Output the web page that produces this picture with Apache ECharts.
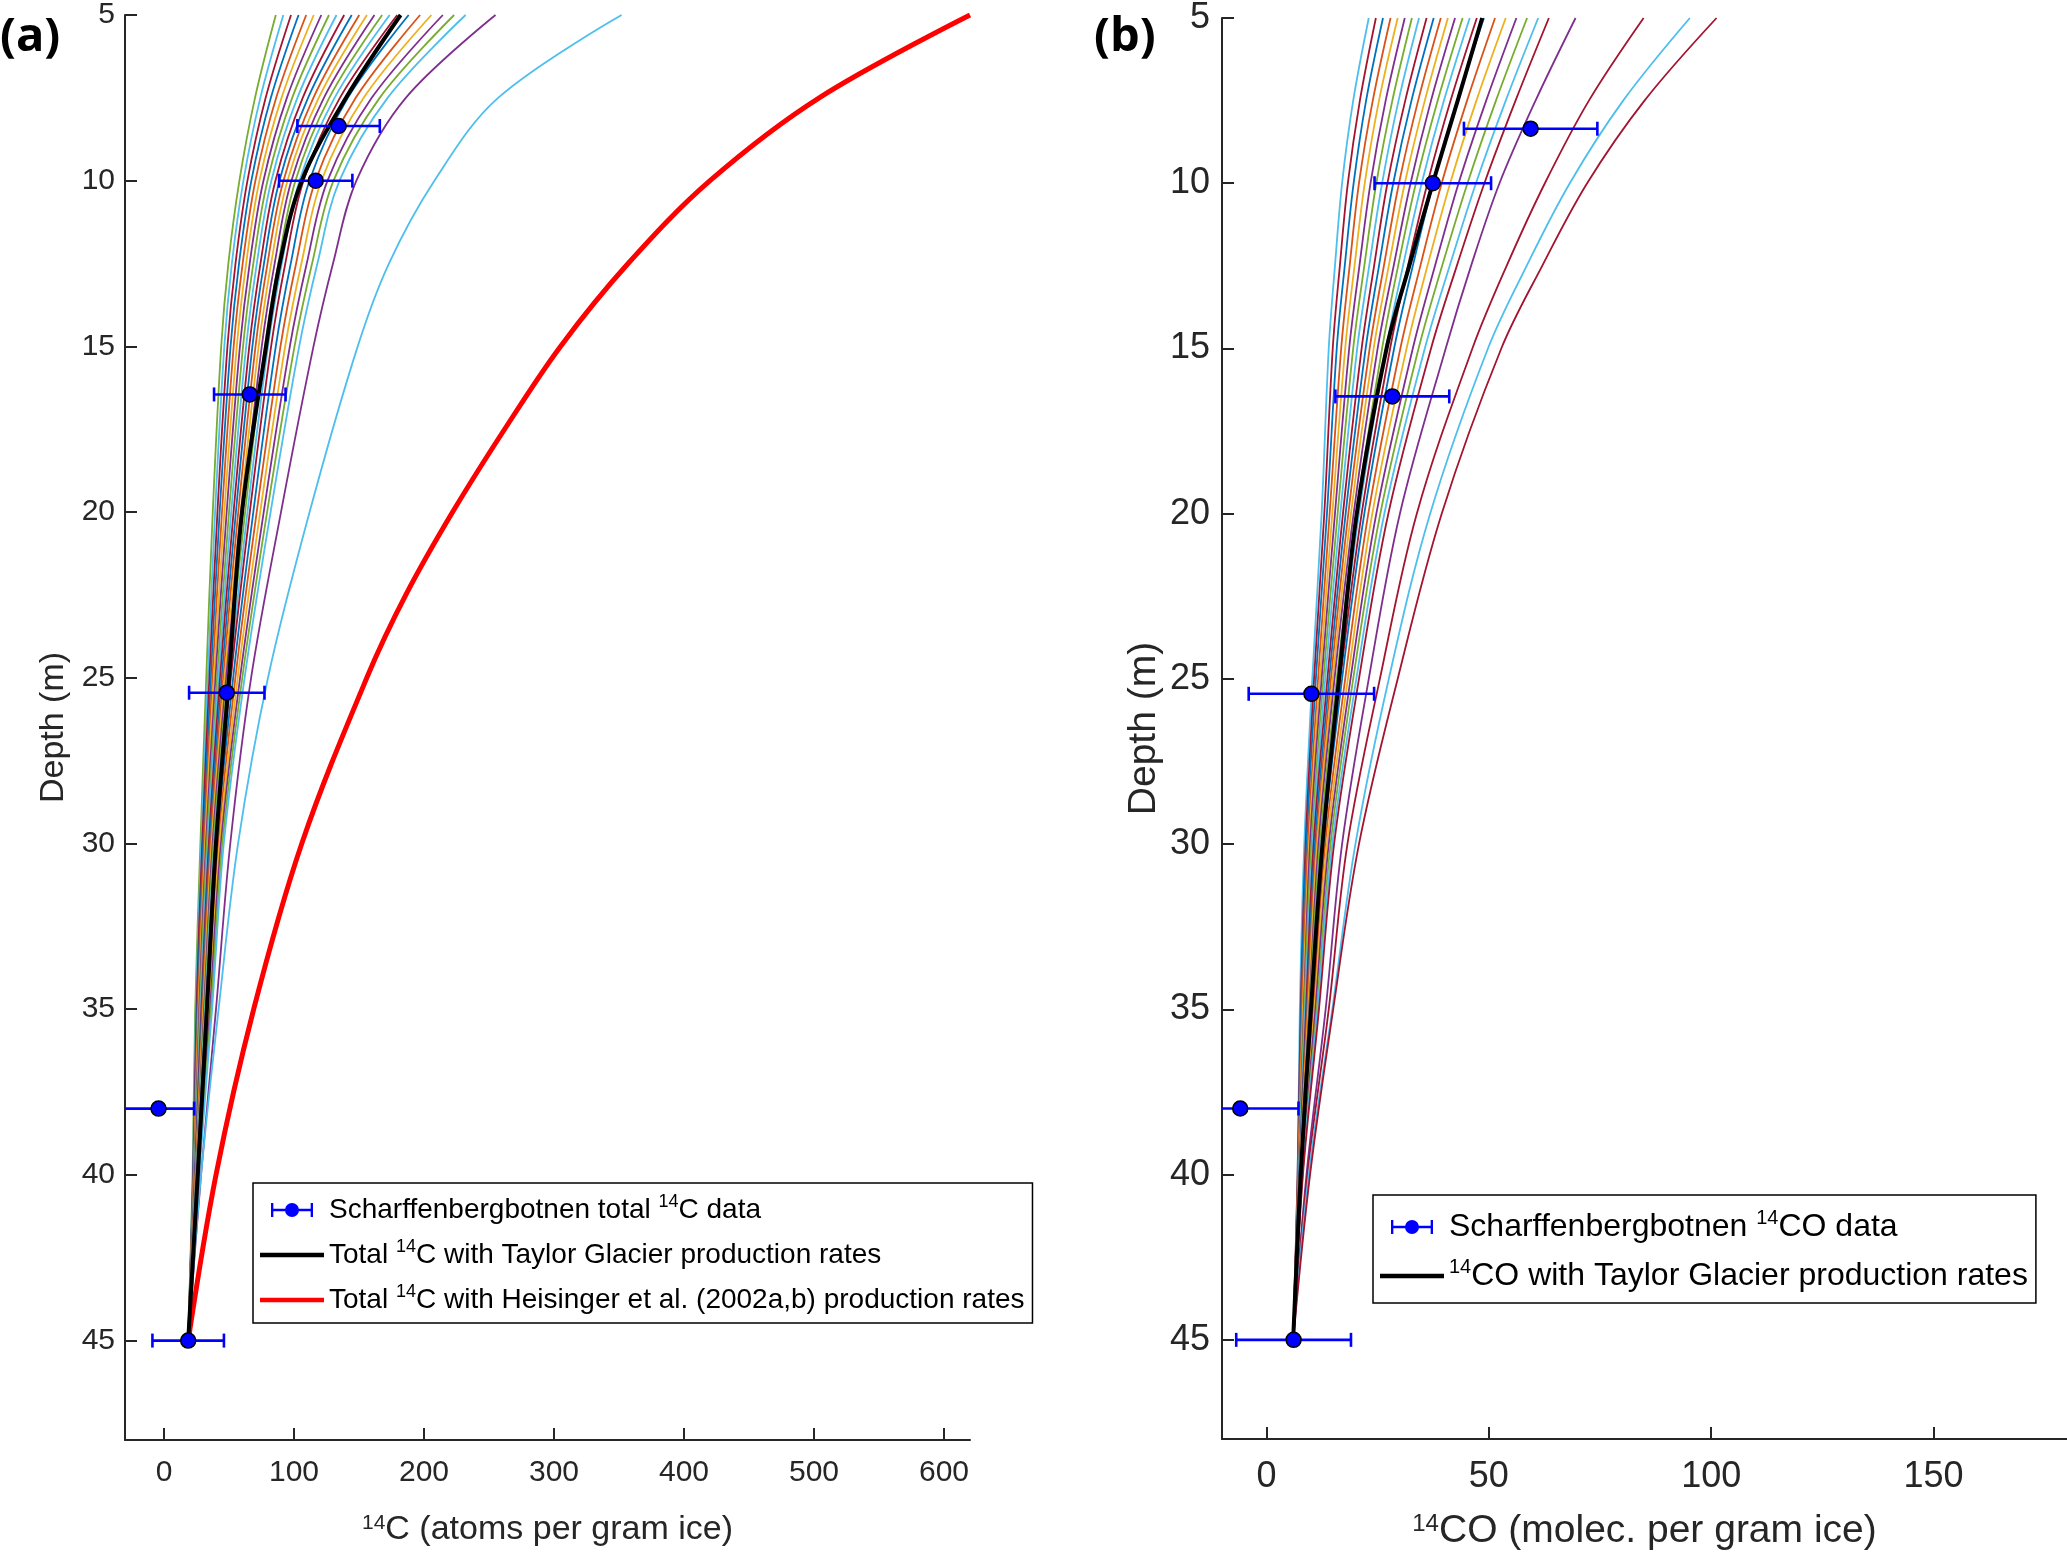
<!DOCTYPE html>
<html>
<head>
<meta charset="utf-8" />
<title>14C / 14CO depth profiles</title>
<style>
  html, body { margin: 0; padding: 0; background: #fff; }
  #main { width: 2067px; height: 1556px; }
</style>
</head>
<body>
<div id="main"></div>
<script src="https://cdn.jsdelivr.net/npm/echarts@6/dist/echarts.min.js"></script>
<script>
// depths (m) at which the model curves were read
var modelDepths = [5, 7.5, 10, 12.5, 15, 20, 25, 30, 35, 40, 45];

// (a) total 14C model runs, atoms per gram ice
var curvesA = [
  [86, 70, 58, 49.5, 44, 37.5, 32.5, 28, 24, 22, 18.6],
  [91.8, 74.1, 61.1, 52.2, 46.4, 39.3, 33.7, 28.7, 24.5, 22.2, 18.6],
  [97.7, 78.2, 64.2, 55, 48.8, 41.1, 34.9, 29.4, 25, 22.4, 18.6],
  [103.5, 82.2, 67.2, 57.7, 51.2, 42.8, 36, 30.2, 25.6, 22.6, 18.6],
  [109.4, 86.3, 70.3, 60.5, 53.6, 44.6, 37.2, 30.9, 26.1, 22.8, 18.6],
  [115.2, 90.4, 73.4, 63.2, 56, 46.4, 38.4, 31.6, 26.6, 23, 18.6],
  [121, 94.5, 76.5, 65.9, 58.4, 48.2, 39.6, 32.3, 27.1, 23.2, 18.6],
  [126.9, 98.6, 79.6, 68.7, 60.8, 50, 40.8, 33, 27.6, 23.4, 18.6],
  [132.7, 102.6, 82.6, 71.4, 63.2, 51.7, 41.9, 33.8, 28.2, 23.6, 18.6],
  [138.6, 106.7, 85.7, 74.2, 65.6, 53.5, 43.1, 34.5, 28.7, 23.8, 18.6],
  [144.4, 110.8, 88.8, 76.9, 68, 55.3, 44.3, 35.2, 29.2, 24, 18.6],
  [150.2, 114.9, 91.9, 79.6, 70.4, 57.1, 45.5, 35.9, 29.7, 24.2, 18.6],
  [156.1, 119, 95, 82.4, 72.8, 58.9, 46.7, 36.6, 30.2, 24.4, 18.6],
  [161.9, 123, 98, 85.1, 75.2, 60.6, 47.8, 37.4, 30.8, 24.6, 18.6],
  [167.8, 127.1, 101.1, 87.9, 77.6, 62.4, 49, 38.1, 31.3, 24.8, 18.6],
  [173.6, 131.2, 104.2, 90.6, 80, 64.2, 50.2, 38.8, 31.8, 25, 18.6],
  [179.4, 135.3, 107.3, 93.3, 82.4, 66, 51.4, 39.5, 32.3, 25.2, 18.6],
  [188.2, 141.4, 111.9, 97.5, 86, 68.7, 53.2, 40.6, 33.1, 25.5, 18.6],
  [197, 147.5, 116.5, 101.6, 89.6, 71.3, 54.9, 41.7, 33.9, 25.8, 18.6],
  [205.7, 153.6, 121.1, 105.7, 93.2, 74, 56.7, 42.8, 34.7, 26.1, 18.6],
  [214.5, 159.8, 125.8, 109.8, 96.8, 76.7, 58.5, 43.8, 35.4, 26.4, 18.6],
  [223.2, 165.9, 130.4, 113.9, 100.4, 79.3, 60.2, 44.9, 36.2, 26.7, 18.6],
  [232, 172, 135, 118, 104, 82, 62, 46, 37, 27, 18.6]
];
var outliersA = [
  [255, 186, 148, 130, 115, 90, 67, 51, 40, 28.5, 18.6],
  [352, 257, 208, 173, 149, 112, 80, 57, 42, 28.5, 18.6]
];
var taylorA = [182, 140, 106, 89, 78.5, 60, 50, 40, 33, 26, 18.6];

// Heisinger et al. curve was read on a finer depth grid
var heisingerDepths = [5, 7.5, 10, 12.5, 15, 17.5, 20, 22.5, 25, 30, 35, 40, 45];
var heisingerA = [620, 504, 420, 357, 305, 262, 222, 186, 156, 106, 69, 40, 18.6];

// measured samples
var sampleDepths = [8.35, 10, 16.45, 25.45, 38, 45];
var totalC = [134.3, 116.7, 66, 48.3, -4.2, 18.6];
var totalCErr = [31.7, 28.2, 27.5, 29, 27.4, 27.5];

// (b) 14CO model runs, molecules per gram ice
var curvesB = [
  [23, 19.5, 17, 15.4, 14, 12.4, 10.3, 8.5, 7.5, 7, 6],
  [24.6, 21, 18.3, 16.5, 14.9, 13, 10.7, 8.8, 7.7, 7, 6],
  [26.2, 22.4, 19.6, 17.6, 15.8, 13.6, 11.1, 9, 7.8, 7.1, 6],
  [27.9, 23.9, 20.8, 18.7, 16.8, 14.2, 11.6, 9.3, 8, 7.1, 6],
  [29.5, 25.3, 22.1, 19.8, 17.7, 14.8, 12, 9.6, 8.2, 7.2, 6],
  [31.1, 26.8, 23.4, 20.9, 18.6, 15.4, 12.4, 9.8, 8.4, 7.2, 6],
  [32.7, 28.3, 24.7, 22, 19.5, 16, 12.8, 10.1, 8.5, 7.3, 6],
  [34.3, 29.7, 26, 23.1, 20.4, 16.6, 13.2, 10.4, 8.7, 7.3, 6],
  [36, 31.2, 27.2, 24.2, 21.4, 17.2, 13.7, 10.6, 8.9, 7.4, 6],
  [37.6, 32.6, 28.5, 25.3, 22.3, 17.8, 14.1, 10.9, 9.1, 7.4, 6],
  [39.2, 34.1, 29.8, 26.4, 23.2, 18.4, 14.5, 11.2, 9.2, 7.5, 6],
  [40.8, 35.6, 31.1, 27.5, 24.1, 19, 14.9, 11.4, 9.4, 7.5, 6],
  [42.4, 37, 32.4, 28.6, 25, 19.6, 15.3, 11.7, 9.6, 7.6, 6],
  [44.1, 38.5, 33.6, 29.6, 26, 20.2, 15.8, 12, 9.7, 7.6, 6],
  [45.7, 39.9, 34.9, 30.7, 26.9, 20.8, 16.2, 12.3, 9.9, 7.7, 6],
  [47.3, 41.4, 36.2, 31.8, 27.8, 21.4, 16.6, 12.5, 10.1, 7.7, 6],
  [48.9, 42.9, 37.5, 32.9, 28.7, 22, 17, 12.8, 10.3, 7.8, 6],
  [51.4, 45.1, 39.4, 34.6, 30.1, 22.9, 17.7, 13.2, 10.5, 7.8, 6],
  [53.8, 47.2, 41.3, 36.2, 31.5, 23.8, 18.3, 13.6, 10.8, 7.9, 6],
  [56.2, 49.4, 43.2, 37.9, 32.9, 24.7, 18.9, 14, 11, 8, 6],
  [58.6, 51.6, 45.2, 39.5, 34.2, 25.6, 19.5, 14.4, 11.3, 8.1, 6],
  [61.1, 53.8, 47.1, 41.2, 35.6, 26.5, 20.2, 14.8, 11.5, 8.1, 6],
  [63.5, 56, 49, 42.8, 37, 27.4, 20.8, 15.2, 11.8, 8.2, 6]
];
var outliersB = [
  [69.5, 60.5, 52.4, 46, 40.3, 30, 23, 17, 13.3, 9, 6],
  [84.8, 72.5, 62.6, 54, 46.3, 33.8, 25.5, 18.2, 14, 9.2, 6],
  [95.2, 80.2, 68.2, 58.5, 49.8, 36.8, 27.5, 20, 14.8, 9.5, 6],
  [101.2, 85, 72.1, 62, 52.8, 39.4, 29.5, 20.8, 15, 9.8, 6]
];
var taylorB = [48.5, 43, 37.4, 32.1, 27, 20.3, 16.3, 12.6, 10, 7.7, 6];
var coData = [59.4, 37.4, 28.3, 10.1, -5.9, 6.1];
var coErr = [15, 13.1, 12.8, 14.1, 13.1, 12.9];

var xTicksA = [0, 100, 200, 300, 400, 500, 600];
var xTicksB = [0, 50, 100, 150];
var depthTicks = [5, 10, 15, 20, 25, 30, 35, 40, 45];

var matlabColors = ['#77AC30', '#4DBEEE', '#A2142F', '#0072BD', '#D95319', '#EDB120', '#7E2F8E'];
var outlierColorsA = ['#7E2F8E', '#4DBEEE'];
var outlierColorsB = ['#7E2F8E', '#A2142F', '#4DBEEE', '#A2142F'];

var FONT = 'Liberation Sans, Arial, sans-serif';
var AXIS_COLOR = '#262626';
var SMOOTH = 0.35;

function toPairs(vals, depths) {
  depths = depths || modelDepths;
  return vals.map(function (v, i) { return [v, depths[i]]; });
}

function lineBase(idx, name, data, z, width, color) {
  return {
    name: name, type: 'line', xAxisIndex: idx, yAxisIndex: idx, z: z,
    data: data, symbol: 'none', smooth: SMOOTH,
    lineStyle: { width: width, color: color }, itemStyle: { color: color }
  };
}

function modelSeries(idx, vals, color) {
  var s = lineBase(idx, undefined, toPairs(vals), 2, 1.8, color);
  s.silent = true;
  return s;
}

function errorSeries(idx, vals, errs) {
  return {
    type: 'custom', xAxisIndex: idx, yAxisIndex: idx, z: 5, silent: true,
    data: vals.map(function (v, i) { return [v - errs[i], v + errs[i], sampleDepths[i]]; }),
    renderItem: function (params, api) {
      var lo = api.coord([api.value(0), api.value(2)]);
      var hi = api.coord([api.value(1), api.value(2)]);
      var cs = params.coordSys;
      var y = lo[1];
      var st = { stroke: '#0000FF', lineWidth: 2.6 };
      var kids = [{
        type: 'line',
        shape: { x1: Math.max(lo[0], cs.x), y1: y, x2: Math.min(hi[0], cs.x + cs.width), y2: y },
        style: st
      }];
      if (lo[0] >= cs.x) kids.push({ type: 'line', shape: { x1: lo[0], y1: y - 7, x2: lo[0], y2: y + 7 }, style: st });
      if (hi[0] <= cs.x + cs.width) kids.push({ type: 'line', shape: { x1: hi[0], y1: y - 7, x2: hi[0], y2: y + 7 }, style: st });
      return { type: 'group', children: kids };
    }
  };
}

function pointSeries(idx, name, vals) {
  return {
    name: name, type: 'scatter', xAxisIndex: idx, yAxisIndex: idx, z: 6,
    data: vals.map(function (v, i) { return [v, sampleDepths[i]]; }),
    symbol: 'circle', symbolSize: 15,
    itemStyle: { color: '#0000FF', borderColor: '#000', borderWidth: 1.5, opacity: 1 }
  };
}

function xAxisOf(idx, min, max, ticks, nameText, fs, nameFs, gap, margin) {
  return {
    gridIndex: idx, type: 'value', min: min, max: max,
    axisLine: { onZero: false, lineStyle: { color: AXIS_COLOR, width: 2 } },
    axisTick: { inside: true, length: 12, customValues: ticks, lineStyle: { color: AXIS_COLOR, width: 2 } },
    axisLabel: { customValues: ticks, fontSize: fs, color: AXIS_COLOR, fontFamily: FONT, margin: margin },
    splitLine: { show: false },
    name: nameText, nameLocation: 'middle', nameGap: gap,
    nameTextStyle: {
      fontSize: nameFs, color: AXIS_COLOR, fontFamily: FONT,
      rich: { sup: { fontSize: Math.round(nameFs * 0.62), color: AXIS_COLOR, fontFamily: FONT, verticalAlign: 'top' } }
    }
  };
}

function yAxisOf(idx, fs, nameFs, gap, margin) {
  return {
    gridIndex: idx, type: 'value', inverse: true, min: 5, max: 48,
    axisLine: { onZero: false, lineStyle: { color: AXIS_COLOR, width: 2 } },
    axisTick: { inside: true, length: 12, customValues: depthTicks, lineStyle: { color: AXIS_COLOR, width: 2 } },
    axisLabel: { customValues: depthTicks, fontSize: fs, color: AXIS_COLOR, fontFamily: FONT, margin: margin },
    splitLine: { show: false },
    name: 'Depth (m)', nameLocation: 'middle', nameGap: gap,
    nameTextStyle: { fontSize: nameFs, color: AXIS_COLOR, fontFamily: FONT }
  };
}

var legendLabels = {
  dataA: 'Scharffenbergbotnen total {sup|14}C data',
  taylorA: 'Total {sup|14}C with Taylor Glacier production rates',
  heisingerA: 'Total {sup|14}C with Heisinger et al. (2002a,b) production rates',
  dataB: 'Scharffenbergbotnen {sup|14}CO data',
  taylorB: '{sup|14}CO with Taylor Glacier production rates'
};
var errIcon = 'path://M0,1h2v12h-2z M34,1h2v12h-2z M0,6h36v2h-36z M12,7a6,6 0 1,1 12,0a6,6 0 1,1 -12,0z';
var lineIcon = 'path://M0,0h64v4.5h-64z';

function legendOf(left, top, names, fs, gap, pad) {
  var items = names.map(function (n, i) { return { name: n, icon: i === 0 ? errIcon : lineIcon }; });
  return {
    left: left, top: top, orient: 'vertical',
    data: items,
    itemWidth: 64, itemHeight: 14, itemGap: gap, padding: pad,
    borderColor: '#000', borderWidth: 1.5, backgroundColor: '#fff',
    itemStyle: { borderWidth: 0 },
    formatter: function (n) { return legendLabels[n]; },
    textStyle: {
      fontSize: fs, color: '#000', fontFamily: FONT, lineHeight: fs + 6,
      rich: { sup: { fontSize: Math.round(fs * 0.64), color: '#000', fontFamily: FONT, verticalAlign: 'top', lineHeight: fs + 6 } }
    }
  };
}

var series = [];
curvesA.forEach(function (c, i) { series.push(modelSeries(0, c, matlabColors[i % matlabColors.length])); });
outliersA.forEach(function (c, i) { series.push(modelSeries(0, c, outlierColorsA[i])); });
series.push(lineBase(0, 'heisingerA', toPairs(heisingerA, heisingerDepths), 3, 5, '#FF0000'));
series.push(lineBase(0, 'taylorA', toPairs(taylorA), 4, 4, '#000'));
series.push(errorSeries(0, totalC, totalCErr));
series.push(pointSeries(0, 'dataA', totalC));

curvesB.forEach(function (c, i) { series.push(modelSeries(1, c, matlabColors[(i + 1) % matlabColors.length])); });
outliersB.forEach(function (c, i) { series.push(modelSeries(1, c, outlierColorsB[i])); });
series.push(lineBase(1, 'taylorB', toPairs(taylorB), 4, 4, '#000'));
series.push(errorSeries(1, coData, coErr));
series.push(pointSeries(1, 'dataB', coData));

var chart = echarts.init(document.getElementById('main'));
chart.setOption({
  animation: false,
  backgroundColor: '#fff',
  textStyle: { fontFamily: FONT },
  grid: [
    { left: 125, top: 13, width: 845, height: 1427 },
    { left: 1222, top: 12, width: 845, height: 1428 }
  ],
  xAxis: [
    xAxisOf(0, -30, 620, xTicksA, '{sup|14}C (atoms per gram ice)', 30, 34, 73, 18),
    xAxisOf(1, -10, 180, xTicksB, '{sup|14}CO (molec. per gram ice)', 36, 39, 73, 20)
  ],
  yAxis: [
    yAxisOf(0, 30, 34, 54, 10),
    yAxisOf(1, 36, 39, 58, 12)
  ],
  legend: [
    legendOf(253, 1183, ['dataA', 'taylorA', 'heisingerA'], 28, 11, [10, 8, 6, 7]),
    legendOf(1373, 1195, ['dataB', 'taylorB'], 32, 11, [13, 8, 8, 7])
  ],
  graphic: [
    { type: 'text', left: 0, top: 14, style: { text: '(a)', fontSize: 47, fontWeight: 'bold', fontFamily: 'Open Sans, sans-serif', fill: '#000' } },
    { type: 'text', left: 1094, top: 14, style: { text: '(b)', fontSize: 47, fontWeight: 'bold', fontFamily: 'Open Sans, sans-serif', fill: '#000' } }
  ],
  series: series
});
</script>
</body>
</html>
